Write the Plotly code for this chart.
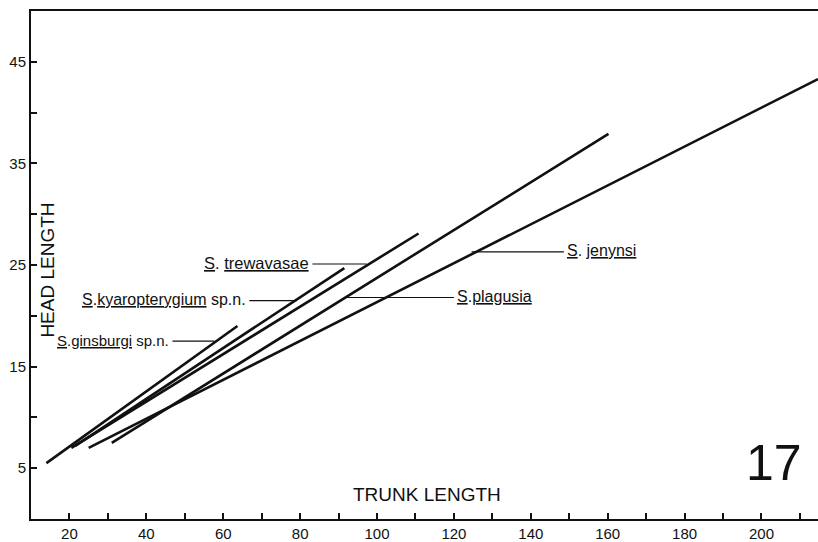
import plotly.graph_objects as go

# regression lines, head length vs trunk length
species = ["jenynsi", "plagusia", "trewavasae", "kyaropterygium", "ginsburgi"]
x_start = [25.0, 31.0, 20.5, 21.5, 14.0]
y_start = [7.0, 7.5, 7.0, 7.2, 5.5]
x_end = [214.7, 160.2, 110.8, 91.5, 63.7]
y_end = [43.3, 37.9, 28.1, 24.7, 19.0]

# label text and leader lines (leader runs from the label to the line)
label_text = [
    "<u>S</u>. <u>jenynsi</u>",
    "<u>S</u>.<u>plagusia</u>",
    "<u>S</u>. <u>trewavasae</u>",
    "<u>S</u>.<u>kyaropterygium</u> sp.n.",
    "<u>S</u>.<u>ginsburgi</u> sp.n.",
]
leader_x0 = [124.6, 91.5, 83.2, 66.8, 46.8]
leader_x1 = [148.6, 120.0, 97.3, 79.1, 57.7]
leader_y = [26.3, 21.8, 25.1, 21.5, 17.5]
label_side = ["left", "left", "right", "right", "right"]

x_ticks = [20, 40, 60, 80, 100, 120, 140, 160, 180, 200]
y_ticks = [5, 15, 25, 35, 45]

FONT = "Liberation Sans, Arial, sans-serif"
INK = "#111111"
label_size = [16, 16, 16.5, 16, 15]

fig = go.Figure()

for i, name in enumerate(species):
    fig.add_trace(go.Scatter(
        x=[x_start[i], x_end[i]], y=[y_start[i], y_end[i]],
        mode="lines", name=name,
        line=dict(color=INK, width=2.6),
    ))

for i in range(len(species)):
    fig.add_trace(go.Scatter(
        x=[leader_x0[i], leader_x1[i]], y=[leader_y[i], leader_y[i]],
        mode="lines", line=dict(color=INK, width=1.2),
        hoverinfo="skip",
    ))
    on_left = label_side[i] == "left"
    fig.add_annotation(
        x=leader_x1[i] if on_left else leader_x0[i], y=leader_y[i],
        text=label_text[i], showarrow=False,
        xanchor="left" if on_left else "right", yanchor="middle",
        xshift=1 if on_left else -1, yshift=1,
        font=dict(family=FONT, size=label_size[i], color=INK),
    )

fig.add_annotation(x=113, y=2.4, text="TRUNK LENGTH", showarrow=False,
                   font=dict(family=FONT, size=19, color=INK))
fig.add_annotation(x=14.3, y=24.5, text="HEAD LENGTH", showarrow=False,
                   textangle=-90, font=dict(family=FONT, size=19, color=INK))
fig.add_annotation(x=203.3, y=5.5, text="17", showarrow=False,
                   font=dict(family=FONT, size=50, color=INK))

axis_common = dict(
    showgrid=False, zeroline=False,
    showline=True, linecolor=INK, linewidth=2,
    ticks="inside", ticklen=6, tickwidth=1.6, tickcolor=INK,
    tickfont=dict(family=FONT, size=15, color=INK),
)

fig.update_layout(
    width=818, height=542,
    paper_bgcolor="white", plot_bgcolor="white",
    margin=dict(l=31, r=0, t=11, b=20),
    showlegend=False,
    xaxis=dict(**axis_common, range=[10, 214.7], tickvals=x_ticks, mirror=True,
               minor=dict(dtick=10, tick0=0, ticks="inside", ticklen=6,
                          tickwidth=1.6, tickcolor=INK)),
    yaxis=dict(**axis_common, range=[0, 50], tickvals=y_ticks,
               minor=dict(dtick=5, tick0=0, ticks="inside", ticklen=6,
                          tickwidth=1.6, tickcolor=INK)),
)

# drop the default page margin so the figure sits at the window's corner
fig.write_html("out.html", config={"displayModeBar": False},
               post_script="document.body.style.margin='0';"
                           "document.body.style.overflow='hidden';")
